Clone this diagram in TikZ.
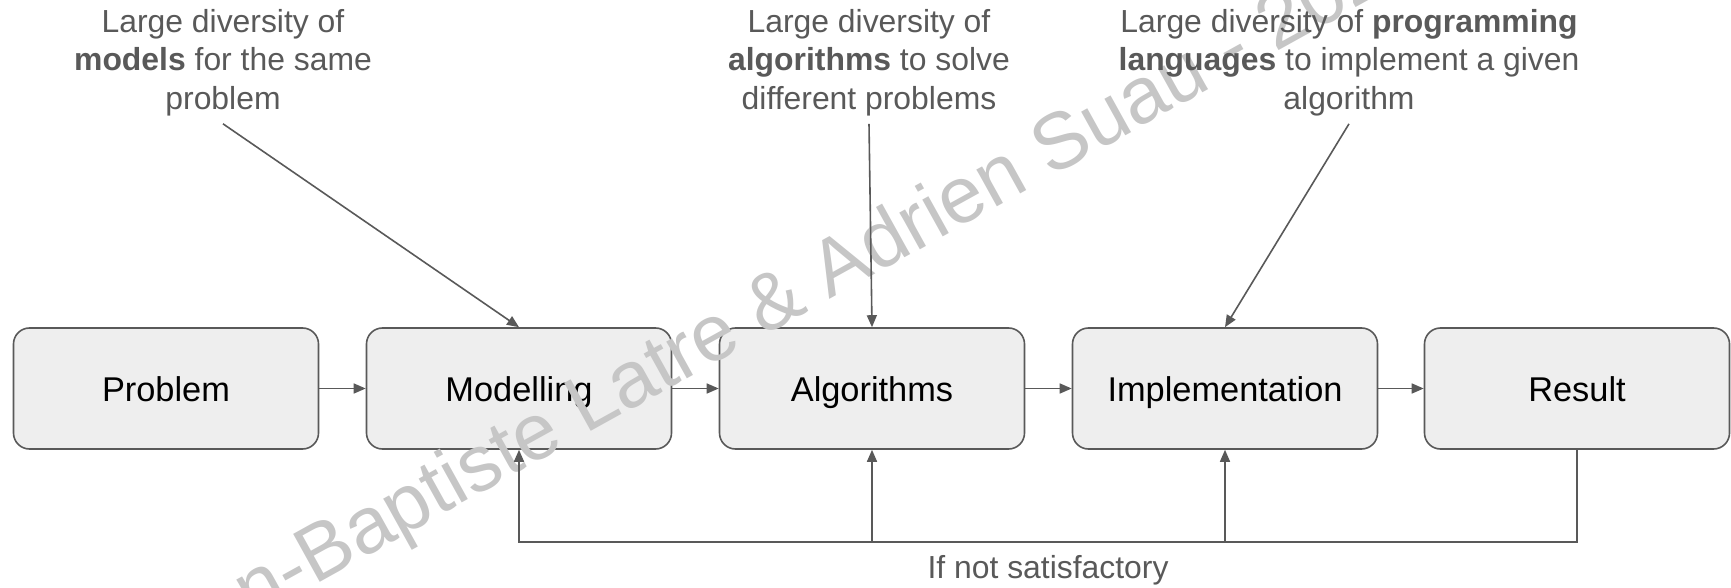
\documentclass[tikz,border=0pt]{standalone}
\usepackage{fontspec}
\setmainfont{Liberation Sans}
\usetikzlibrary{arrows.meta}
\definecolor{lc}{HTML}{595959}
\definecolor{bf}{HTML}{EEEEEE}
\definecolor{wm}{HTML}{C6C6C6}
\begin{document}
\begin{tikzpicture}[x=1bp,y=-1bp,
  stage/.style={draw=lc, line width=1.6bp, fill=bf, rounded corners=16bp,
    minimum width=305bp, minimum height=121bp, inner sep=0pt,
    text height=25bp, text depth=0bp,
    font=\fontsize{34.5}{40}\selectfont, text=black},
  lab/.style={align=center, inner sep=0pt, font=\fontsize{32}{38.5}\selectfont, text=lc},
  conn/.style={draw=lc, line width=1.6bp},
  arr/.style={conn, -{Triangle[length=12bp,width=10bp]}},
  wmtext/.style={inner sep=0pt, text=wm, font=\fontsize{80}{90}\selectfont},
]
\useasboundingbox (0,0) rectangle (1731,588);
% stages
\node[stage] (prob) at (166,388.5) {Problem};
\node[stage] (mod)  at (519,388.5) {Modelling};
\node[stage] (alg)  at (872,388.5) {Algorithms};
\node[stage] (imp)  at (1225,388.5) {Implementation};
\node[stage] (res)  at (1577,388.5) {Result};
% watermark
\begin{scope}
\clip (0,0) rectangle (1731,588);
\node[wmtext, rotate=29, anchor=base west] (wmk) at (140,682) {Jean-Baptiste Latre \& Adrien Suau - 2023};
\end{scope}
% labels
\node[lab, anchor=north] (l1) at (223,9) {Large diversity of\\\textbf{models} for the same\\problem};
\node[lab, anchor=north] (l2) at (869,9) {Large diversity of\\\textbf{algorithms} to solve\\different problems};
\node[lab, anchor=north] (l3) at (1349,9) {Large diversity of \textbf{programming}\\\textbf{languages} to implement a given\\algorithm};
% top arrows
\draw[arr] ([yshift=-8bp]l1.south) -- (mod.north);
\draw[arr] ([yshift=-8bp]l2.south) -- (alg.north);
\draw[arr] ([yshift=-8bp]l3.south) -- (imp.north);
% flow arrows
\draw[arr] (prob) -- (mod);
\draw[arr] (mod) -- (alg);
\draw[arr] (alg) -- (imp);
\draw[arr] (imp) -- (res);
% feedback
\coordinate (fb) at ([yshift=-92bp]res.south);
\draw[arr] (res.south) -- (fb) -| (mod.south);
\draw[arr] (alg.south |- fb) -- (alg.south);
\draw[arr] (imp.south |- fb) -- (imp.south);
\node[lab] (nots) at (1048,570) {If not satisfactory};
\end{tikzpicture}
\end{document}
